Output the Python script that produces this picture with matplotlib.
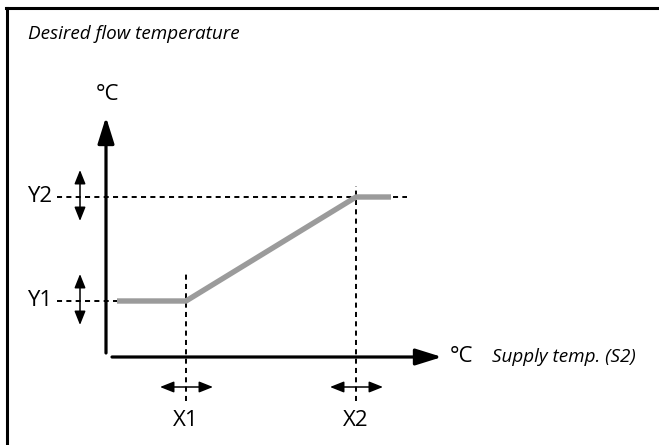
import matplotlib
matplotlib.use("Agg")
import matplotlib.pyplot as plt
from matplotlib.lines import Line2D

plt.rcParams["font.family"] = ["Open Sans", "DejaVu Sans"]

# characteristic curve (origin = crossing of the two axes)
curve_x = [11, 80, 250, 285]
curve_y = [56, 56, 160, 160]

# break points and their labels
x_points = [80, 250]
x_labels = ["X1", "X2"]
y_points = [56, 160]
y_labels = ["Y1", "Y2"]

title = "Desired flow temperature"
x_axis_title = "Supply temp. (S2)"
unit = "°C"

GREY = "#9b9b9b"


def double_arrow(ax, p0, p1):
    ax.annotate(
        "", xy=p1, xytext=p0,
        arrowprops=dict(arrowstyle="<|-|>,head_length=0.6,head_width=0.24",
                        mutation_scale=14, lw=1.1, color="black",
                        shrinkA=0, shrinkB=0),
    )


def main() -> None:
    fig = plt.figure(figsize=(6.59, 4.45), dpi=100)
    ax = fig.add_axes([0, 0, 1, 1])
    ax.set_xlim(-106, 553)
    ax.set_ylim(-88, 357)
    ax.axis("off")

    # frame: only left and top edges
    fig.add_artist(Line2D([7 / 659, 7 / 659], [0, 1 - 8 / 445], transform=fig.transFigure,
                          color="black", lw=2.2))
    fig.add_artist(Line2D([6 / 659, 1], [1 - 8 / 445, 1 - 8 / 445], transform=fig.transFigure,
                          color="black", lw=2.2))

    ax.text(-78, 323, title, fontsize=13.6, style="italic", ha="left", va="center")

    # axes with arrow heads
    ax.annotate("", xy=(0, 240), xytext=(0, 4),
                arrowprops=dict(arrowstyle="-|>,head_length=0.8,head_width=0.25",
                                mutation_scale=20, lw=2.3, color="black",
                                shrinkA=0, shrinkB=0))
    ax.annotate("", xy=(336, 0), xytext=(6, 0),
                arrowprops=dict(arrowstyle="-|>,head_length=0.8,head_width=0.25",
                                mutation_scale=20, lw=2.3, color="black",
                                shrinkA=0, shrinkB=0))
    ax.text(1, 262, unit, fontsize=16, ha="center", va="center")
    ax.text(344, 0, unit, fontsize=16, ha="left", va="center")
    ax.text(386, 0, x_axis_title, fontsize=13.6, style="italic", ha="left", va="center")

    # guide lines
    dash = dict(color="black", lw=1.4, dashes=(2.6, 2.2))
    ax.plot([-49, curve_x[0]], [y_points[0]] * 2, **dash)
    ax.plot([-49, 301], [y_points[1]] * 2, **dash)
    ax.plot([x_points[0]] * 2, [-44, 84], **dash)
    ax.plot([x_points[1]] * 2, [-44, 171], **dash)

    # curve
    ax.plot(curve_x, curve_y, color=GREY, lw=3.9, solid_capstyle="butt",
            solid_joinstyle="miter")

    # tolerance arrows and labels
    for yv, lab in zip(y_points, y_labels):
        double_arrow(ax, (-26, yv - 24), (-26, yv + 27))
        ax.text(-54, yv, lab, fontsize=16, ha="right", va="center")
    for xv, lab in zip(x_points, x_labels):
        double_arrow(ax, (xv - 26, -30), (xv + 27, -30))
        ax.text(xv, -63, lab, fontsize=16, ha="center", va="center")

    fig.savefig("out.png", dpi=100)


if __name__ == "__main__":
    main()
